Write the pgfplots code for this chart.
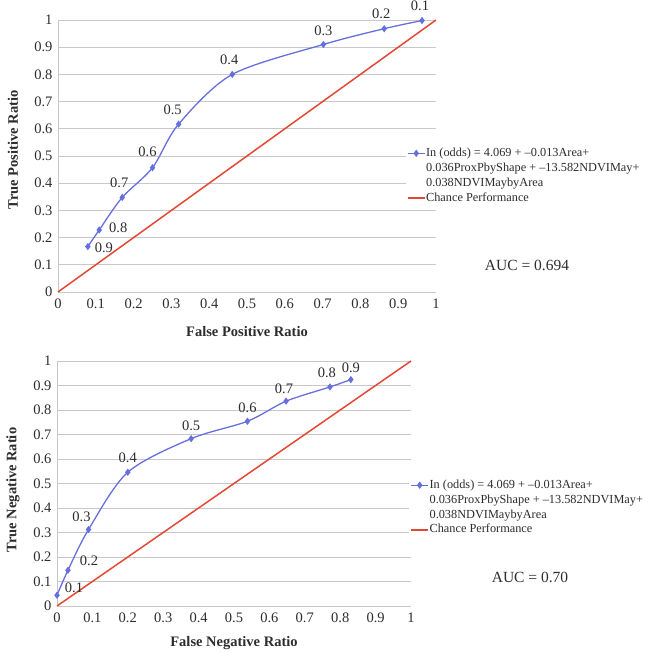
\documentclass[border=0pt]{standalone}
\usepackage{fontspec}
\setmainfont{Liberation Serif}
\usepackage{pgfplots}
\pgfplotsset{compat=1.18}
\usepackage{pgfplotstable}
\definecolor{rocblue}{RGB}{102,112,220}
\definecolor{chancered}{RGB}{228,72,52}
\definecolor{gridgray}{RGB}{200,200,200}
\definecolor{txt}{RGB}{45,45,45}

\pgfplotstableread{
x     y     lab  dx  dy
0.079 0.167 0.9  16  -1
0.109 0.228 0.8  19  2
0.170 0.348 0.7  -3  15
0.250 0.457 0.6  -5  16
0.319 0.617 0.5  -6  14
0.461 0.800 0.4  -3  15
0.702 0.910 0.3  0   14
0.863 0.968 0.2  -3  15
0.963 0.998 0.1  -2  15
}\toptable

\pgfplotstableread{
x     y     lab  dx  dy
0.000 0.044 0.1  17  7
0.031 0.146 0.2  21  9
0.089 0.312 0.3  -7  13
0.200 0.546 0.4  0   14
0.379 0.683 0.5  0   13
0.538 0.754 0.6  0   13
0.647 0.836 0.7  -2  12
0.771 0.894 0.8  -3  14
0.830 0.924 0.9  0   12
}\bottable

\newcommand{\modeltext}{\begin{tabular}[t]{@{}l@{}}In (odds) = 4.069 + –0.013Area+\\0.036ProxPbyShape + –13.582NDVIMay+\\0.038NDVIMaybyArea\end{tabular}}
\newcommand{\chancetext}{\rule{0pt}{40pt}Chance Performance}

\pgfplotsset{
  rocaxis/.style={
    scale only axis,
    xmin=0, xmax=1, ymin=0, ymax=1,
    axis lines=left,
    axis line style={-, draw=gridgray, line width=0.8pt},
    ymajorgrids,
    grid style={gridgray, line width=0.7pt},
    xtick={0,0.1,...,1},
    ytick={0,0.1,...,1},
    xticklabels={0,0.1,0.2,0.3,0.4,0.5,0.6,0.7,0.8,0.9,1},
    yticklabels={0,0.1,0.2,0.3,0.4,0.5,0.6,0.7,0.8,0.9,1},
    major tick length=0pt,
    tick label style={font=\fontsize{14.5}{16}\selectfont, text=txt},
    /pgf/number format/assume math mode=true,
    xticklabel style={yshift=-3pt},
    yticklabel style={xshift=-2pt},
    label style={font=\bfseries\fontsize{14.5}{16}\selectfont, text=txt},
    clip=false,
    legend style={draw=none, fill=white, font=\fontsize{12.3}{15}\selectfont, text=txt,
      cells={anchor=base west}, nodes={inner sep=0.6pt}, row sep=2pt, inner sep=1pt},
    legend image post style={yshift=0.3em},
  },
  roccurve/.style={
    rocblue, line width=1.3pt, smooth, mark=diamond*, mark size=2.6pt,
    mark options={fill=rocblue, draw=rocblue},
    nodes near coords, point meta=explicit symbolic,
    visualization depends on={\thisrow{dx}\as\dx},
    visualization depends on={\thisrow{dy}\as\dy},
    every node near coord/.append style={anchor=center, xshift=\dx pt, yshift=\dy pt,
      font=\fontsize{14.5}{16}\selectfont, text=txt, inner sep=0pt},
  },
}

\begin{document}
\begin{tikzpicture}
\useasboundingbox (0,0) rectangle (653pt,652pt);

\begin{axis}[rocaxis,
  at={(58pt,360pt)}, anchor=south west,
  width=378pt, height=272pt,
  xlabel={False Positive Ratio},
  xlabel style={at={(axis description cs:0.5,0)}, anchor=center, yshift=-40pt},
  legend style={at={(axis description cs:0.92,0.544)}, anchor=north west},
]
\addplot[roccurve] table[x=x, y=y, meta=lab]{\toptable};
\addlegendentry{\modeltext}
\addplot[chancered, line width=1.5pt, mark=none] coordinates {(0,0) (1,1)};
\addlegendentry{\chancetext}
\end{axis}
\node[rotate=90, font=\bfseries\fontsize{14.5}{16}\selectfont, text=txt] at (13pt,502pt) {True Positive Ratio};
\node[font=\fontsize{15.5}{18}\selectfont, text=txt] at (527pt,387pt) {AUC = 0.694};

\begin{axis}[rocaxis,
  at={(57pt,46pt)}, anchor=south west,
  width=354pt, height=245pt,
  xlabel={False Negative Ratio},
  xlabel style={at={(axis description cs:0.5,0)}, anchor=center, yshift=-37pt},
  legend style={at={(axis description cs:0.995,0.531)}, anchor=north west},
]
\addplot[roccurve] table[x=x, y=y, meta=lab]{\bottable};
\addlegendentry{\modeltext}
\addplot[chancered, line width=1.5pt, mark=none] coordinates {(0,0) (1,1)};
\addlegendentry{\chancetext}
\end{axis}
\node[rotate=90, font=\bfseries\fontsize{14.5}{16}\selectfont, text=txt] at (13pt,162pt) {True Negative Ratio};
\node[font=\fontsize{15.5}{18}\selectfont, text=txt] at (530pt,75pt) {AUC = 0.70};
\end{tikzpicture}
\end{document}
